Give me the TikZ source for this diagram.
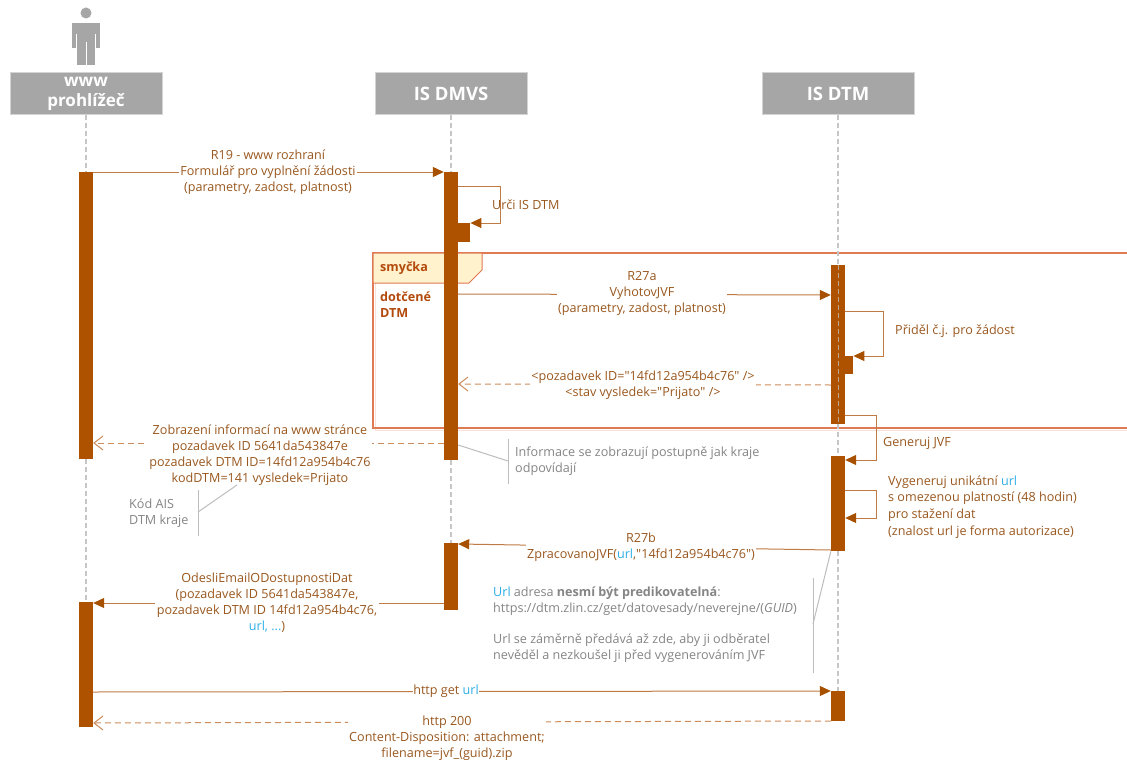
\documentclass[tikz,border=0pt]{standalone}
\usepackage{fontspec}
\setmainfont{Open Sans}
\usetikzlibrary{arrows.meta}
\definecolor{actc}{HTML}{AF5200}
\definecolor{linec}{HTML}{BF7B45}
\definecolor{retc}{HTML}{CC8C5C}
\definecolor{arrc}{HTML}{A65000}
\definecolor{txtc}{HTML}{9A581F}
\definecolor{notec}{HTML}{858585}
\definecolor{noteln}{HTML}{BDBDBD}
\definecolor{urlc}{HTML}{2DAEE6}
\definecolor{headc}{HTML}{A6A6A6}
\definecolor{headbd}{HTML}{D4D4D4}
\definecolor{lifec}{HTML}{C6C6C6}
\definecolor{framec}{HTML}{E07A55}
\definecolor{frametwo}{HTML}{F8E2D8}
\definecolor{tabc}{HTML}{FFF2CC}
\definecolor{loopc}{HTML}{B34A0C}
\newcommand{\urltxt}[1]{\textcolor{urlc}{#1}}
\newcommand{\dq}{\textquotedbl}
\begin{document}
\begin{tikzpicture}[x=1pt,y=-1pt,
 font=\fontsize{12.6}{16}\selectfont,
 lifeline/.style={draw=lifec,line width=1.1pt,dash pattern=on 5pt off 3pt},
 headbox/.style={fill=headc,draw=headbd,line width=1pt,text=white,font=\bfseries\fontsize{18.5}{20}\selectfont,minimum width=152pt,minimum height=41pt,inner sep=0pt,align=center},
 actbar/.style={fill=actc,draw=none,inner sep=0pt,minimum width=14pt,anchor=north},
 msg/.style={draw=linec,line width=1pt,-{Triangle[length=11pt,width=10pt,color=arrc]}},
 ret/.style={draw=retc,line width=1pt,dash pattern=on 6pt off 4pt,-{Straight Barb[length=9pt,width=14pt,color=retc]}},
 lbl/.style={fill=white,text=txtc,align=center,inner sep=1.5pt},
 slbl/.style={text=txtc,align=left,anchor=west,inner sep=0pt},
 notetxt/.style={text=notec,align=left,anchor=west,inner sep=0pt},
 noteline/.style={draw=noteln,line width=1pt},
]
\useasboundingbox[fill=white] (0,0) rectangle (1127,760);

% actor
\fill[headc] (86,13) circle (5.5pt);
\fill[headc] (72,23) rectangle (100,48);
\fill[headc] (77,48) rectangle (95,65);
\draw[white,line width=1pt] (76.5,34) -- (76.5,48) (95.5,34) -- (95.5,48) (86,42) -- (86,65);

% headers
\node[headbox,font=\bfseries\fontsize{17}{20}\selectfont] (hb) at (86,93.5) {www\\prohlížeč};
\node[headbox] (hd) at (451,93.5) {IS DMVS};
\node[headbox] (ht) at (838,93.5) {IS DTM};

% loop frame
\draw[frametwo,line width=1pt] (1130,430.5) -- (375.5,430.5) -- (375.5,255.5);
\draw[framec,line width=1.2pt] (1130,253) -- (373,253) -- (373,428) -- (1130,428);
\draw[framec,fill=tabc,line width=1pt] (373,253) -- (482,253) -- (482,270) -- (469,283) -- (373,283) -- cycle;
\node[anchor=west,text=loopc,font=\bfseries\fontsize{12.6}{16}\selectfont,inner sep=0pt] (lp) at (380,268) {smyčka};
\node[anchor=west,align=left,text=loopc,font=\bfseries\fontsize{12.6}{16}\selectfont,inner sep=0pt] (lc) at (380,305) {dotčené\\DTM};

% activation bars
\node[actbar,minimum height=287pt] (brA) at (86,172) {};
\node[actbar,minimum height=288pt] (dmA) at (451,172) {};
\node[actbar,minimum width=12pt,minimum height=19pt,anchor=north west] (dmN) at (458,223) {};
\node[actbar,minimum height=159pt] (dtA) at (838,265) {};
\node[actbar,minimum width=8pt,minimum height=18pt,anchor=north west] (dtN) at (845,356) {};
\node[actbar,minimum height=95pt] (dtB) at (838,456) {};
\node[actbar,minimum height=67pt] (dmB) at (451,543) {};
\node[actbar,minimum height=125pt] (brB) at (86,602) {};
\node[actbar,minimum height=30pt] (dtC) at (838,691) {};

% lifelines
\draw[lifeline] (hb.south) -- (brA.north);
\draw[lifeline] (brA.south) -- (brB.north);
\draw[lifeline] (hd.south) -- (dmA.north);
\draw[lifeline] (dmA.south) -- (dmB.north);
\draw[lifeline] (ht.south) -- (dtA.north);
\draw[lifeline,draw=lifec!75!actc,line width=0.9pt] (dtA.north) -- (dtA.south);
\draw[lifeline] (dtA.south) -- (dtB.north);
\draw[lifeline] (dtB.south) -- (dtC.north);

% R19
\draw[msg] (brA.east |- 0,172) -- (dmA.west |- 0,172);
\node[lbl] (l1) at (268,172) {R19 - www rozhraní\\Formulář pro vyplnění žádosti\\(parametry, zadost, platnost)};

% Urci IS DTM
\draw[msg] (dmA.east |- 0,186) -- (500,186) -- (500,223) -- (dmN.east |- 0,223);
\node[slbl] (l2) at (492,205) {Urči IS DTM};

% R27a
\draw[msg] (dmA.east |- 0,294) -- (dtA.west |- 0,295);
\node[lbl] (l3) at (642,293) {R27a\\VyhotovJVF\\(parametry, zadost, platnost)};

% Pridel
\draw[msg] (dtA.east |- 0,311) -- (883,311) -- (883,356) -- (dtN.east |- 0,356);
\node[slbl] (l4) at (895,331) {Přiděl č.j. pro žádost};

% return pozadavek
\draw[ret] (dtA.west |- 0,385) -- (dmA.east |- 0,384);
\node[lbl] (l5) at (643,385) {<pozadavek ID=\dq 14fd12a954b4c76\dq{} />\\<stav vysledek=\dq Prijato\dq{} />};

% Generuj JVF
\draw[msg] (dtA.east |- 0,415) -- (876,415) -- (876,460) -- (dtB.east |- 0,460);
\node[slbl] (l6) at (883,443) {Generuj JVF};

% Vygeneruj
\draw[msg] (dtB.east |- 0,490) -- (876,490) -- (876,518) -- (dtB.east |- 0,518);
\node[slbl,font=\fontsize{12.6}{16.7}\selectfont] (l7) at (888,507) {Vygeneruj unikátní \urltxt{url}\\s omezenou platností (48 hodin)\\pro stažení dat\\(znalost url je forma autorizace)};

% Zobrazeni
\draw[ret] (dmA.west |- 0,443) -- (brA.east |- 0,443);
\node[lbl] (l8) at (260,455) {Zobrazení informací na www stránce\\pozadavek ID 5641da543847e\\pozadavek DTM ID=14fd12a954b4c76\\kodDTM=141 vysledek=Prijato};

% note Kod AIS
\node[notetxt] (n1) at (129,513) {Kód AIS\\DTM kraje};
\coordinate (n1b) at (198,512);
\draw[noteline] (198,490) -- (198,536);
\draw[noteline] (n1b) -- (237,485);

% note Informace
\node[notetxt] (n2) at (515,461) {Informace se zobrazují postupně jak kraje\\odpovídají};
\coordinate (n2b) at (508,461);
\draw[noteline] (508,439) -- (508,484);
\draw[noteline] (dmA.east |- 0,445) -- (n2b);

% R27b
\draw[msg] (dtB.west |- 0,550) -- (dmB.east |- 0,544);
\node[lbl] (l9) at (641,547) {R27b\\ZpracovanoJVF(\urltxt{url},\dq 14fd12a954b4c76\dq)};

% Odesli
\draw[msg] (dmB.west |- 0,603) -- (brB.east |- 0,603);
\node[lbl] (l10) at (267,603) {OdesliEmailODostupnostiDat\\(pozadavek ID 5641da543847e,\\pozadavek DTM ID 14fd12a954b4c76,\\\urltxt{url, ...})};

% note Url
\node[notetxt] (n3) at (493,625) {\urltxt{Url} adresa \textbf{nesmí být predikovatelná}:\\https://dtm.zlin.cz/get/datovesady/neverejne/(\textit{GUID})\\[15pt]Url se záměrně předává až zde, aby ji odběratel\\nevěděl a nezkoušel ji před vygenerováním JVF};
\coordinate (n3b) at (813,624);
\draw[noteline] (813,578) -- (813,673);
\draw[noteline] (n3b) -- (dtB.south west);

% http get url
\draw[msg] (brB.east |- 0,692) -- (dtC.west |- 0,691);
\node[lbl,inner sep=0.5pt] (l11) at (446,691) {http get \urltxt{url}};

% http 200
\draw[ret] (dtC.west |- 0,721) -- (brB.east |- 0,723);
\node[lbl] (l12) at (447,738) {http 200\\Content-Disposition: attachment;\\filename=jvf\_(guid).zip};
\end{tikzpicture}
\end{document}
